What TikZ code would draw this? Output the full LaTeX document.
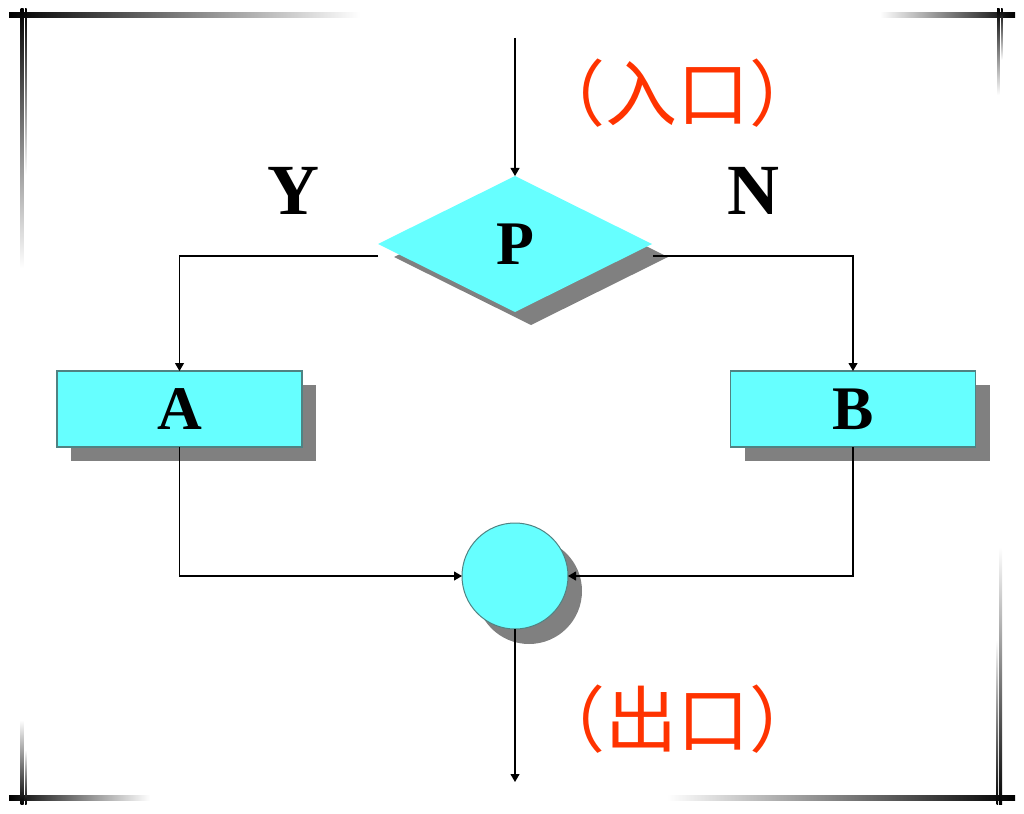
\documentclass[tikz,border=0pt]{standalone}
\usepackage{fontspec}
\setmainfont{Liberation Serif}
\newfontfamily\cjk{Noto Sans CJK SC}
\usetikzlibrary{shapes.geometric,shadows,arrows.meta}
\definecolor{cyanfill}{RGB}{102,255,255}
\definecolor{boxline}{RGB}{80,130,130}
\definecolor{shadowgray}{RGB}{128,128,128}
\definecolor{labelred}{RGB}{255,51,0}
\tikzset{
  flowbox/.style={rectangle, fill=cyanfill, draw=boxline, line width=1.2pt,
    minimum width=245pt, minimum height=76pt, inner sep=0pt, outer sep=0pt,
    general shadow={fill=shadowgray, shadow xshift=14pt, shadow yshift=-14pt},
    font=\fontsize{62}{62}\selectfont\bfseries},
  decision/.style={diamond, fill=cyanfill, minimum width=274pt, minimum height=136pt,
    inner sep=0pt, outer sep=0pt, aspect=2,
    general shadow={fill=shadowgray, shadow xshift=16pt, shadow yshift=-13pt},
    font=\fontsize{62}{62}\selectfont\bfseries},
  joint/.style={circle, fill=cyanfill, draw=boxline, line width=1pt,
    minimum size=106pt, inner sep=0pt, outer sep=0pt,
    general shadow={fill=shadowgray, shadow xshift=14pt, shadow yshift=-15pt}},
  branch/.style={font=\fontsize{72}{72}\selectfont\bfseries},
  cnlabel/.style={text=labelred, font=\cjk\fontsize{72}{72}\selectfont},
  conn/.style={line width=1.1pt, -{Triangle[length=8pt,width=9pt]}},
}
\begin{document}
\begin{tikzpicture}[x=1pt,y=-1pt]
\useasboundingbox (0,0) rectangle (1024,813);
% frame corners
\shade[left color=black, right color=white] (9,13) rectangle (360,18);
\shade[left color=white, right color=black] (880,13) rectangle (1015,18);
\shade[left color=black, right color=white] (9,795) rectangle (150,800);
\shade[left color=white, right color=black] (667,795) rectangle (1015,800);
\shade[top color=black, bottom color=white] (20.5,9) rectangle (23.5,268);
\shade[top color=black, bottom color=white] (25,9) rectangle (26.5,175);
\shade[top color=white, bottom color=black] (20.5,720) rectangle (23.5,804);
\shade[top color=white, bottom color=black] (25,750) rectangle (26.5,804);
\shade[top color=black, bottom color=white] (997,9) rectangle (999.5,95);
\shade[top color=black, bottom color=white] (1001,9) rectangle (1002.5,60);
\shade[top color=white, bottom color=black] (999,547) rectangle (1002,804);
\shade[top color=white, bottom color=black] (996.5,640) rectangle (998,804);
% nodes
\node[decision] (P) at (515,244) {P};
\node[flowbox] (A) at (179.5,409) {A};
\node[flowbox] (B) at (853,409) {B};
\node[joint] (C) at (515,576) {};
\node[branch] (Y) at (293,191) {Y};
\node[branch] (N) at (753,191) {N};
\node[cnlabel] (in) at (677,93) {（入口）};
\node[cnlabel] (out) at (677,719) {（出口）};
% connector ends
\coordinate (entry) at (515,38);
\coordinate (exitpt) at (515,782);
\coordinate (pl) at (378,256);
\coordinate (pr) at (653,256);
% connectors
\draw[conn] (entry) -- (P.north);
\draw[conn] (pl) -| (A.north);
\draw[conn] (pr) -| (B.north);
\draw[conn] (A.south) |- (C.west);
\draw[conn] (B.south) |- (C.east);
\draw[conn] (C.south) -- (exitpt);
\end{tikzpicture}
\end{document}
